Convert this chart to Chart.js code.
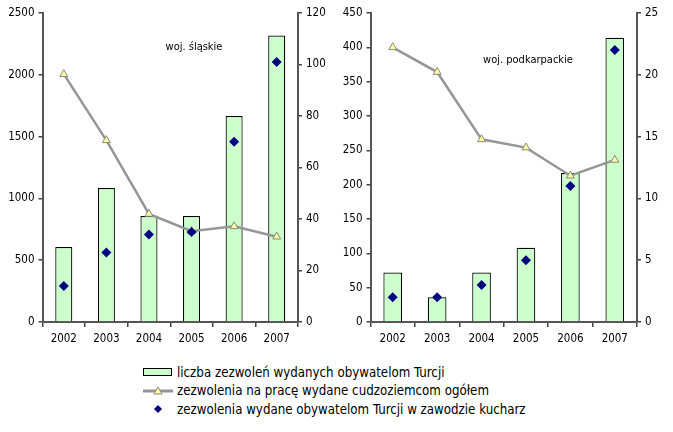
<!DOCTYPE html>
<html>
<head>
<meta charset="utf-8">
<script src="https://cdn.jsdelivr.net/npm/chart.js@4/dist/chart.umd.min.js"></script>
<style>
	body { margin:0; background:#fff; width:673px; height:432px; overflow:hidden; position:relative; }
	canvas { position:absolute; top:0; }
	#legenda { position:absolute; left:143px; top:363px; font-size:13.2px; color:#000; }
	#legenda div { display:flex; align-items:center; height:18.5px; white-space:nowrap; }
	#legenda svg { flex:none; }
</style>
</head>
<body>
<canvas id="c1" width="336" height="350" style="left:0"></canvas>
<canvas id="c2" width="337" height="350" style="left:336px"></canvas>
<div id="legenda"></div>
<script>
const lata = ['2002', '2003', '2004', '2005', '2006', '2007']

// woj. śląskie
const slaskieTurcja = [607, 1084, 858, 858, 1667, 2317]
const slaskieOgolem = [2005, 1470, 874, 735, 774, 690]
const slaskieKucharz = [14, 27, 34, 35, 70, 101]

// woj. podkarpackie
const podkarpTurcja = [72, 36, 72, 108, 217, 414]
const podkarpOgolem = [400, 364, 266, 254, 213, 236]
const podkarpKucharz = [2, 2, 3, 5, 11, 22]

const nazwy = [
	'liczba zezwoleń wydanych obywatelom Turcji',
	'zezwolenia na pracę wydane cudzoziemcom ogółem',
	'zezwolenia wydane obywatelom Turcji w zawodzie kucharz',
]

const czcionka = "'DejaVu Sans Condensed', 'Liberation Sans', sans-serif"
const zielony = '#ccffcc', szary = '#969696', zolty = '#ffff99', granat = '#000080'
document.getElementById('legenda').style.fontFamily = czcionka

const podpis = {
	id: 'podpis',
	beforeDatasetsDraw: (c, a, o) => {
		const ctx = c.ctx
		ctx.save()
		ctx.font = `11px ${czcionka}`
		ctx.fillStyle = '#000'
		ctx.textAlign = 'center'
		ctx.textBaseline = 'middle'
		ctx.fillText(o.tekst, o.x, o.y)
		ctx.restore()
	}
}

const os = (poz, max, krok, szer) => ({
	position: poz, min: 0, max: max,
	ticks: { stepSize: krok, color: '#000', padding: 4, font: { family: czcionka, size: 11.5 }, callback: v => String(v) },
	grid: { drawOnChartArea: false, tickLength: 4, color: '#444', lineWidth: 1.5 },
	border: { color: '#555', width: 2 },
	afterFit: s => { s.width = szer },
})

const wykres = (id, turcja, ogolem, kucharz, lewa, prawa, szer, tekst) => new Chart(document.getElementById(id), {
	type: 'bar',
	data: {
		labels: lata,
		datasets: [{
			label: nazwy[2],
			type: 'line',
			data: kucharz,
			yAxisID: 'y1',
			showLine: false,
			pointStyle: 'rectRot',
			pointRadius: 5,
			backgroundColor: granat,
			borderColor: granat,
			borderWidth: 0,
			order: 0,
		}, {
			label: nazwy[1],
			type: 'line',
			data: ogolem,
			yAxisID: 'y',
			borderColor: szary,
			borderWidth: 2.5,
			pointStyle: 'triangle',
			pointRadius: 4.6,
			pointBackgroundColor: zolty,
			pointBorderColor: '#888',
			pointBorderWidth: 1,
			tension: 0,
			order: 1,
		}, {
			label: nazwy[0],
			data: turcja,
			yAxisID: 'y',
			backgroundColor: zielony,
			borderColor: '#000',
			borderWidth: 1.2,
			categoryPercentage: 1,
			barPercentage: lewa.bar,
			order: 2,
		}]
	},
	options: {
		responsive: false,
		animation: false,
		layout: { padding: { top: 13, left: 0, right: 0, bottom: 0 } },
		plugins: {
			legend: { display: false },
			tooltip: { enabled: false },
			podpis: tekst,
		},
		scales: {
			x: {
				offset: true,
				ticks: { color: '#000', padding: 5, maxRotation: 0, font: { family: czcionka, size: 11.5 } },
				grid: { offset: true, drawOnChartArea: false, tickLength: 5, color: '#444', lineWidth: 1.5 },
				border: { color: '#555', width: 2 },
				afterFit: s => { s.height = 28 },
			},
			y: os('left', lewa.max, lewa.krok, szer[0]),
			y1: os('right', prawa.max, prawa.krok, szer[1]),
		}
	},
	plugins: [podpis]
})

wykres('c1', slaskieTurcja, slaskieOgolem, slaskieKucharz,
	{ max: 2500, krok: 500, bar: 0.4 }, { max: 120, krok: 20 }, [42.5, 38],
	{ tekst: 'woj. śląskie', x: 194, y: 47 })

wykres('c2', podkarpTurcja, podkarpOgolem, podkarpKucharz,
	{ max: 450, krok: 50, bar: 0.42 }, { max: 25, krok: 5 }, [34.5, 36],
	{ tekst: 'woj. podkarpackie', x: 192, y: 60 })

// legenda pod wykresami
;(a => {
	const znaki = [
		'<rect x="0.5" y="5.5" width="28" height="7" fill="' + zielony + '" stroke="#000"/>',
		'<line x1="0" y1="9" x2="30" y2="9" stroke="' + szary + '" stroke-width="3"/><polygon points="15,5 19,12 11,12" fill="' + zolty + '" stroke="#888"/>',
		'<polygon points="15,5 19,9 15,13 11,9" fill="' + granat + '"/>',
	]
	nazwy.forEach((n, i) => {
		const w = document.createElement('div')
		w.innerHTML = '<svg width="34" height="18">' + znaki[i] + '</svg><span>' + n + '</span>'
		a.appendChild(w)
	})
})(document.getElementById('legenda'))
</script>
</body>
</html>
